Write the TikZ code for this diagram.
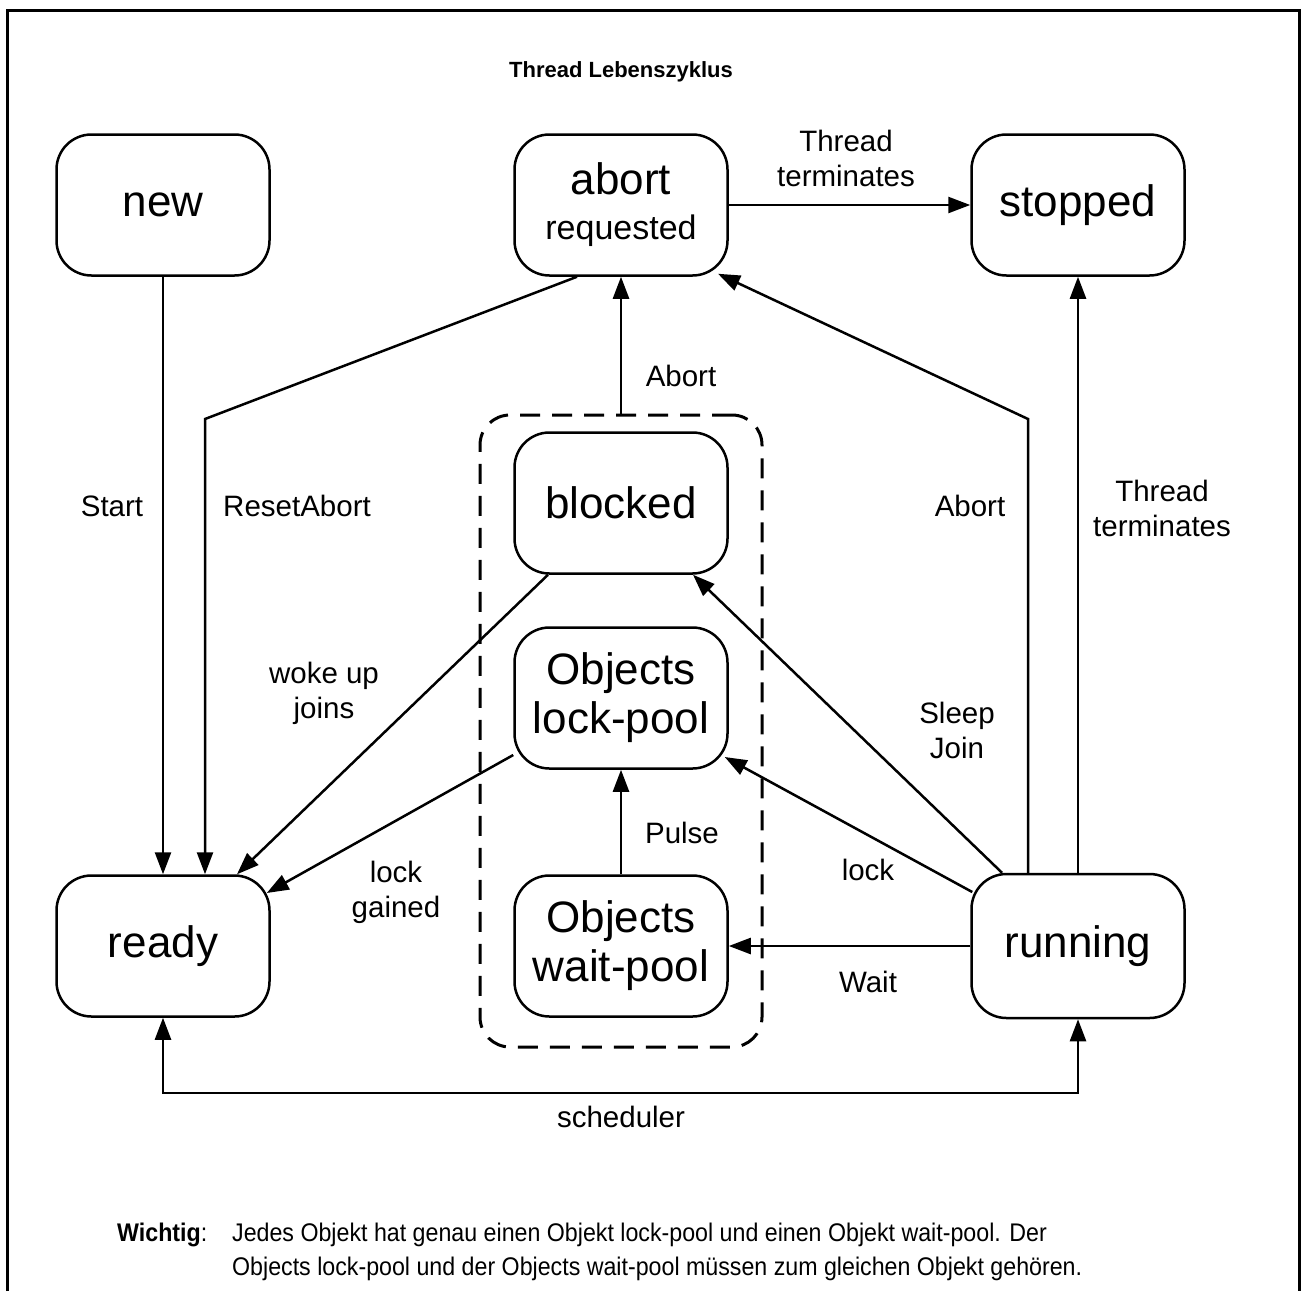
\documentclass[tikz,border=0pt]{standalone}
\usepackage{fontspec}
\setmainfont{Liberation Sans}
\usetikzlibrary{arrows.meta}
\begin{document}
\begin{tikzpicture}[x=1pt,y=-1pt,
  state/.style={draw, line width=2.5pt, rounded corners=35pt, minimum width=213pt,
    minimum height=141pt, align=center, font=\fontsize{44}{49}\selectfont, inner sep=0pt},
  conn/.style={line width=2.5pt, -{Triangle[length=22pt,width=16pt]}},
  lbl/.style={font=\fontsize{29.5}{35}\selectfont, align=center, inner sep=0pt},
  note/.style={font=\fontsize{25.5}{30}\selectfont, anchor=base west, inner sep=0pt,
    xscale=0.91, transform shape},
]
\useasboundingbox (0,0) rectangle (1308,1291);
% frame (open at the bottom)
\draw[line width=3pt] (7,1291) -- (7,10) -- (1299,10) -- (1299,1291);

% title
\node[font=\bfseries\fontsize{22}{26}\selectfont, inner sep=0pt] (title) at (621,72) {Thread Lebenszyklus};

% dashed container
\node[draw, dash pattern=on 20pt off 12pt, line width=3pt, rounded corners=30pt,
      minimum width=282pt, minimum height=632pt, inner sep=0pt] (pool) at (621,731) {};

% states
\node[state] (new) at (163,205) {new};
\node[state] (abort) at (621,205) {abort\\[-4pt]{\fontsize{34}{40}\selectfont requested}};
\node[state] (stopped) at (1078,205) {stopped};
\node[state] (blocked) at (621,503) {blocked};
\node[state] (lock) at (621,698) {Objects\\lock-pool};
\node[state] (wait) at (621,946) {Objects\\wait-pool};
\node[state] (ready) at (163,946) {ready};
\node[state, minimum height=144pt] (running) at (1078,946) {running};

% helper coordinates
\coordinate (reset) at (205,419);
\coordinate (abbend) at (1028,419);

% connectors
\draw[conn] (new) -- (ready);
\draw[conn] ([xshift=-44pt]abort.south) -- (reset) -- (reset |- ready.north);
\draw[conn] (abort.east) -- (stopped.west);
\draw[conn] (pool.north) -- (abort.south);
\draw[conn] ([xshift=-73pt]blocked.south) -- ([xshift=74pt]ready.north);
\draw[conn] ([yshift=-57pt]lock.west) -- ([xshift=-4pt,yshift=53pt]ready.east);
\draw[conn] (wait.north) -- (lock.south);
\draw[conn] (running.west) -- (wait.east);
\draw[conn] ([xshift=2pt,yshift=54pt]running.west) -- ([xshift=-4pt,yshift=-59pt]lock.east);
\draw[conn] ([xshift=-76pt]running.north) -- ([xshift=72pt]blocked.south);
\draw[conn] (abbend |- running.north) -- (abbend) -- ([xshift=97pt,yshift=3pt]abort.south);
\draw[conn] (running) -- (stopped);
\draw[line width=2.5pt, {Triangle[length=22pt,width=16pt]}-{Triangle[length=22pt,width=16pt]}]
  (ready.south) -- ++(0,75) -| (running.south);

% labels
\node[lbl] (lstart) at (112,506) {Start};
\node[lbl] (lreset) at (297,506) {ResetAbort};
\node[lbl] (lterm1) at (846,158) {Thread\\terminates};
\node[lbl] (labort1) at (681,376) {Abort};
\node[lbl] (labort2) at (970,506) {Abort};
\node[lbl] (lterm2) at (1162,508) {Thread\\terminates};
\node[lbl] (lwoke) at (324,693) {woke up\\joins};
\node[lbl] (lsleep) at (957,730) {Sleep\\Join};
\node[lbl] (lpulse) at (682,833) {Pulse};
\node[lbl] (llock) at (868,870) {lock};
\node[lbl] (lgained) at (396,892) {lock\\gained};
\node[lbl] (lwait) at (868,982) {Wait};
\node[lbl] (lsched) at (621,1117) {scheduler};

% note
\node[note] (w1) at (117,1241) {\textbf{Wichtig}:};
\node[note] (w2) at (232,1241) {Jedes Objekt hat genau einen Objekt lock-pool und einen Objekt wait-pool. Der};
\node[note] (w3) at (232,1275) {Objects lock-pool und der Objects wait-pool müssen zum gleichen Objekt gehören.};
\end{tikzpicture}
\end{document}
